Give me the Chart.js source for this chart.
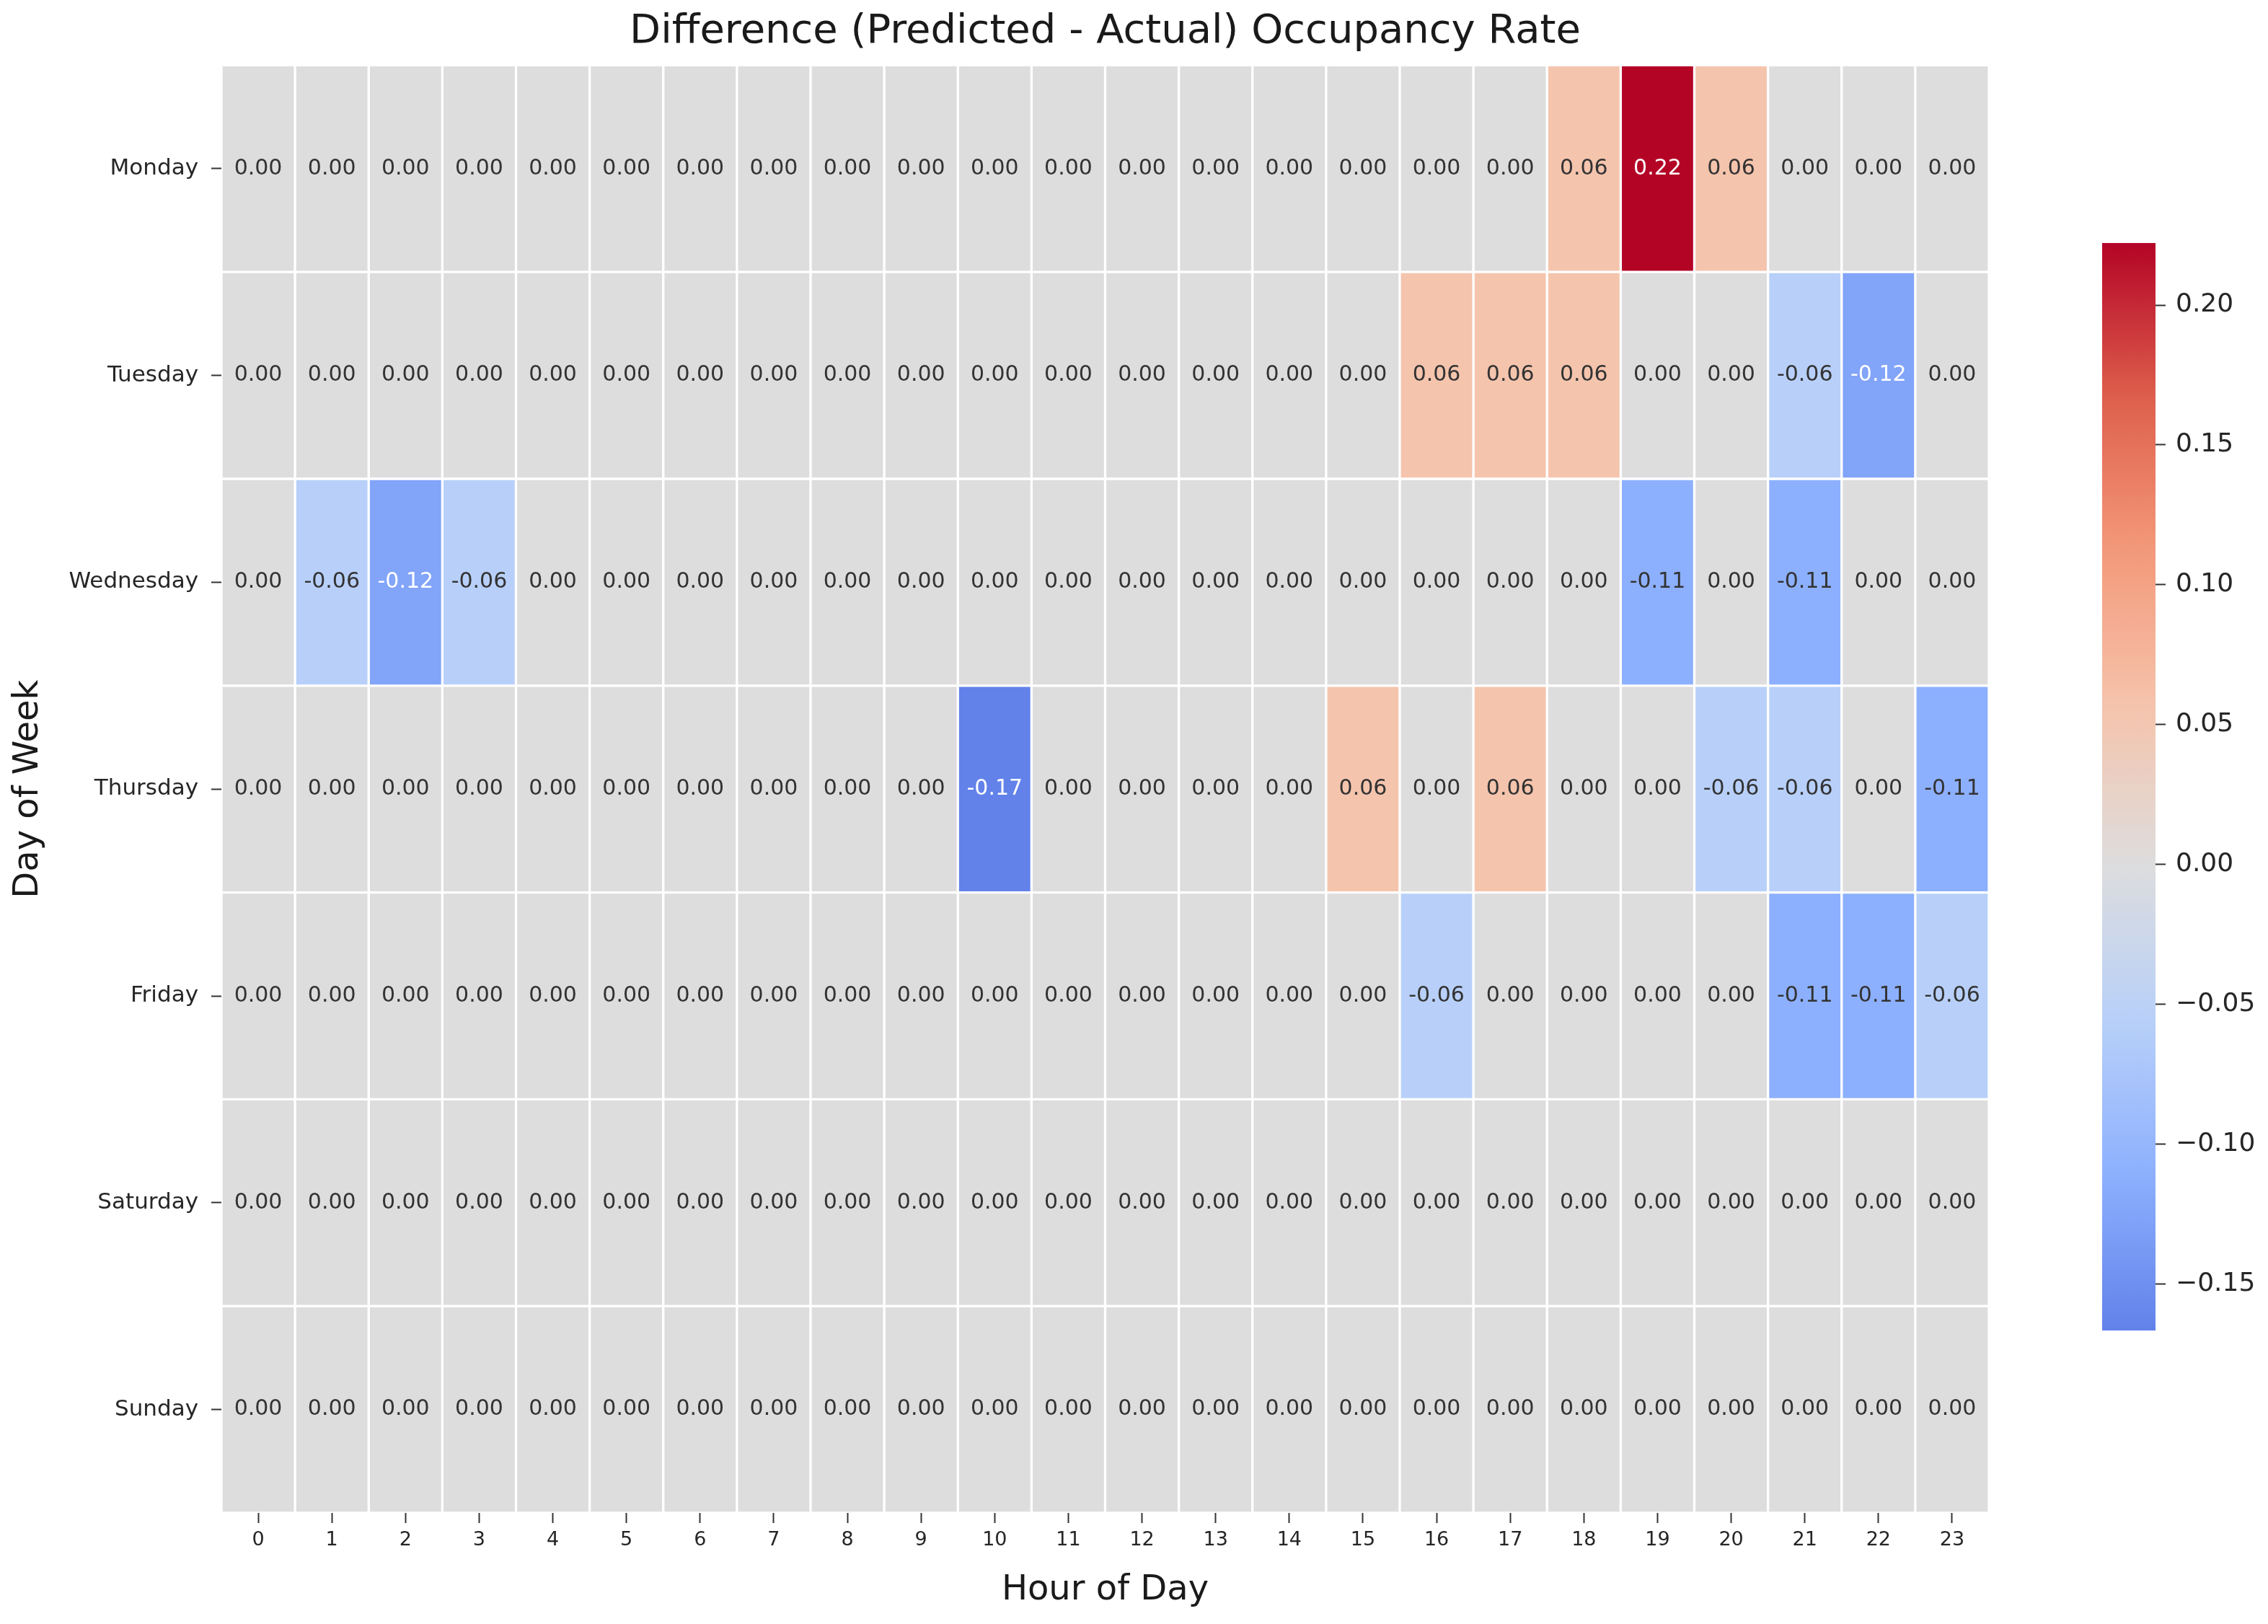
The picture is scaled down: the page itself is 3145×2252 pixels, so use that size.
<!DOCTYPE html>
<html>
<head>
<meta charset="utf-8">
<script src="https://cdn.jsdelivr.net/npm/chart.js@4.4.1/dist/chart.umd.min.js"></script>
<style>
  html, body { margin: 0; padding: 0; background: #fff; }
  body { width: 3145px; height: 2252px; position: relative; overflow: hidden; }
  #heat { position: absolute; left: 0; top: 0; }
  #barra { position: absolute; left: 2880px; top: 0; }
</style>
</head>
<body>
<canvas id="heat" width="2800" height="2252" style="width:2800px;height:2252px"></canvas>
<canvas id="barra" width="265" height="2252" style="width:265px;height:2252px"></canvas>
<script>
// Dados (linhas = dias, colunas = horas)
const dias = ['Monday', 'Tuesday', 'Wednesday', 'Thursday', 'Friday', 'Saturday', 'Sunday'];
const horas = ['0','1','2','3','4','5','6','7','8','9','10','11','12','13','14','15','16','17','18','19','20','21','22','23'];

const monday    = [0,0,0,0,0,0,0,0,0,0,0,0,0,0,0,0,0,0,0.0556,0.2222,0.0556,0,0,0];
const tuesday   = [0,0,0,0,0,0,0,0,0,0,0,0,0,0,0,0,0.0556,0.0556,0.0556,0,0,-0.0556,-0.125,0];
const wednesday = [0,-0.0556,-0.125,-0.0556,0,0,0,0,0,0,0,0,0,0,0,0,0,0,0,-0.1111,0,-0.1111,0,0];
const thursday  = [0,0,0,0,0,0,0,0,0,0,-0.1667,0,0,0,0,0.0556,0,0.0556,0,0,-0.0556,-0.0556,0,-0.1111];
const friday    = [0,0,0,0,0,0,0,0,0,0,0,0,0,0,0,0,-0.0556,0,0,0,0,-0.1111,-0.1111,-0.0556];
const saturday  = [0,0,0,0,0,0,0,0,0,0,0,0,0,0,0,0,0,0,0,0,0,0,0,0];
const sunday    = [0,0,0,0,0,0,0,0,0,0,0,0,0,0,0,0,0,0,0,0,0,0,0,0];

const ticksBarra = [-0.15, -0.10, -0.05, 0.00, 0.05, 0.10, 0.15, 0.20];

const linhas = [monday, tuesday, wednesday, thursday, friday, saturday, sunday];
const todos = linhas.flat();
const vMin = Math.min(...todos);
const vMax = Math.max(...todos);
const limite = Math.max(Math.abs(vMin), Math.abs(vMax)); // centro em zero

// Mapa de cores coolwarm (pontos de referência)
const coolwarm = [
  [0.000, [59, 76, 192]],
  [0.125, [98, 130, 234]],
  [0.250, [141, 176, 254]],
  [0.375, [184, 208, 249]],
  [0.500, [221, 221, 221]],
  [0.625, [245, 196, 173]],
  [0.750, [244, 154, 123]],
  [0.875, [222, 96, 77]],
  [1.000, [180, 4, 38]]
];

function rgbDe(v) {
  let t = 0.5 + v / (2 * limite);
  t = Math.max(0, Math.min(1, t));
  for (let i = 1; i < coolwarm.length; i++) {
    if (t <= coolwarm[i][0]) {
      const [t0, c0] = coolwarm[i - 1];
      const [t1, c1] = coolwarm[i];
      const f = (t - t0) / (t1 - t0);
      return c0.map((c, k) => Math.round(c + (c1[k] - c) * f));
    }
  }
  return coolwarm[coolwarm.length - 1][1];
}

function corDe(v) {
  const c = rgbDe(v);
  return `rgb(${c[0]},${c[1]},${c[2]})`;
}

// Cor do texto igual ao seaborn (luminância relativa)
function corTexto(v) {
  const lin = rgbDe(v).map(c => {
    c = c / 255;
    return c <= 0.03928 ? c / 12.92 : Math.pow((c + 0.055) / 1.055, 2.4);
  });
  const lum = 0.2126 * lin[0] + 0.7152 * lin[1] + 0.0722 * lin[2];
  return lum > 0.408 ? '#333333' : '#ffffff';
}

function formatar(v) {
  return (Math.round(v * 100) / 100).toFixed(2);
}

const fonte = '"DejaVu Sans", sans-serif';
Chart.defaults.font.family = fonte;
Chart.defaults.color = '#262626';

// Plugin que escreve o valor dentro de cada célula
const anotacoes = {
  id: 'anotacoes',
  afterDatasetsDraw(chart) {
    const ctx = chart.ctx;
    ctx.save();
    ctx.font = `30px ${fonte}`;
    ctx.textAlign = 'center';
    ctx.textBaseline = 'middle';
    chart.data.datasets.forEach((ds, r) => {
      const meta = chart.getDatasetMeta(r);
      meta.data.forEach((el, h) => {
        const v = linhas[r][h];
        ctx.fillStyle = corTexto(v);
        ctx.fillText(formatar(v), el.x, (el.y + el.base) / 2);
      });
    });
    ctx.restore();
  }
};

// Gráfico principal (mapa de calor com barras flutuantes)
const datasets = dias.map((d, r) => ({
  label: d,
  data: horas.map(() => [r, r + 1]),
  backgroundColor: linhas[r].map(v => corDe(v)),
  borderColor: '#ffffff',
  borderWidth: 2,
  borderSkipped: false,
  grouped: false,
  barPercentage: 1,
  categoryPercentage: 1
}));

new Chart(document.getElementById('heat'), {
  type: 'bar',
  data: { labels: horas, datasets: datasets },
  options: {
    responsive: false,
    animation: false,
    devicePixelRatio: 1,
    layout: { padding: { top: 0, left: 0, right: 42, bottom: 0 } },
    plugins: {
      legend: { display: false },
      tooltip: { enabled: false },
      title: {
        display: true,
        fullSize: false,
        text: 'Difference (Predicted - Actual) Occupancy Rate',
        color: '#1a1a1a',
        font: { size: 56, weight: 'normal', lineHeight: 1.15 },
        padding: { top: 12, bottom: 14 }
      }
    },
    scales: {
      x: {
        type: 'category',
        border: { display: false },
        grid: { display: true, drawOnChartArea: false, offset: false, tickLength: 14, tickColor: '#333', tickWidth: 2 },
        ticks: { font: { size: 27 }, padding: 8, maxRotation: 0, autoSkip: false },
        title: { display: true, text: 'Hour of Day', font: { size: 48 }, color: '#1a1a1a', padding: { top: 0, bottom: 18 } },
        afterFit(scale) { scale.height = 154; }
      },
      y: {
        type: 'linear',
        min: 0,
        max: 7,
        reverse: true,
        border: { display: false },
        grid: { display: true, drawOnChartArea: false, tickLength: 14, tickColor: '#333', tickWidth: 2 },
        afterBuildTicks(scale) { scale.ticks = dias.map((d, i) => ({ value: i + 0.5 })); },
        ticks: { font: { size: 31 }, padding: 18, callback: (v, i) => dias[i] },
        title: { display: true, text: 'Day of Week', font: { size: 48 }, color: '#1a1a1a', padding: { top: 11, bottom: 0 } },
        afterFit(scale) { scale.width = 307; }
      }
    }
  },
  plugins: [anotacoes]
});

// Barra de cores
new Chart(document.getElementById('barra'), {
  type: 'bar',
  data: {
    labels: [''],
    datasets: [{
      data: [[vMin, vMax]],
      backgroundColor(c) {
        const area = c.chart.chartArea;
        if (!area) return null;
        const g = c.chart.ctx.createLinearGradient(0, area.bottom, 0, area.top);
        for (let i = 0; i <= 40; i++) {
          const v = vMin + (vMax - vMin) * i / 40;
          g.addColorStop(i / 40, corDe(v));
        }
        return g;
      },
      borderWidth: 0,
      barPercentage: 1,
      categoryPercentage: 1
    }]
  },
  options: {
    responsive: false,
    animation: false,
    devicePixelRatio: 1,
    layout: { padding: { top: 337, left: 35, right: 0, bottom: 407 } },
    plugins: { legend: { display: false }, tooltip: { enabled: false } },
    scales: {
      x: { display: false },
      y: {
        type: 'linear',
        position: 'right',
        min: vMin,
        max: vMax,
        border: { display: false },
        grid: { display: true, drawOnChartArea: false, tickLength: 14, tickColor: '#333', tickWidth: 2 },
        afterBuildTicks(scale) { scale.ticks = ticksBarra.map(v => ({ value: v })); },
        ticks: {
          font: { size: 36 },
          padding: 14,
          callback: v => v.toFixed(2).replace('-', '\u2212')
        },
        afterFit(scale) { scale.width = 156; }
      }
    }
  }
});
</script>
</body>
</html>
